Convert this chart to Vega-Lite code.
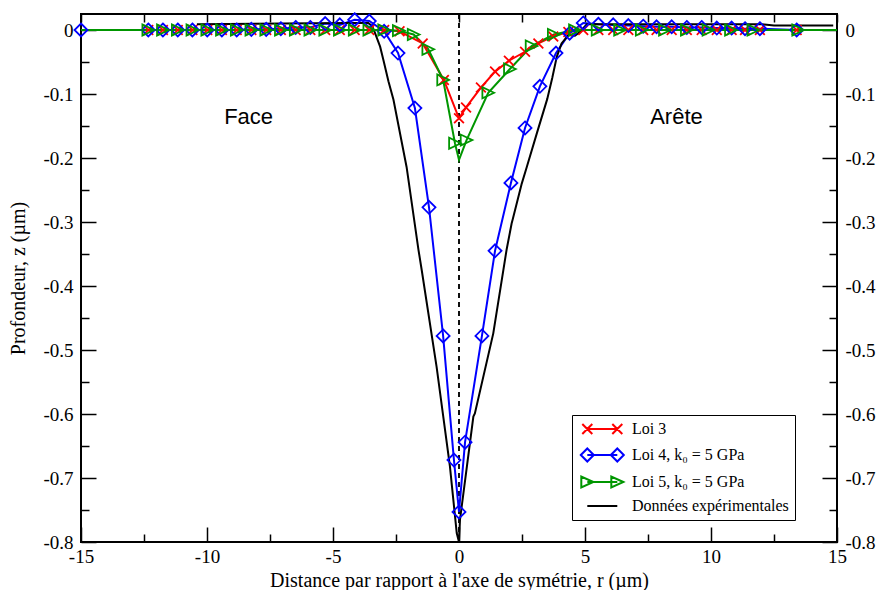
{
  "$schema": "https://vega.github.io/schema/vega-lite/v6.json",
  "width": 756,
  "height": 528,
  "autosize": {"type": "none"},
  "padding": {"left": 81, "top": 14, "right": 43, "bottom": 48},
  "background": "white",
  "config": {
    "view": {"stroke": "black", "strokeWidth": 2},
    "axis": {
      "domain": false, "grid": false, "ticks": true, "tickColor": "#000000", "tickWidth": 1.5, "tickOpacity": 1, "zindex": 1,
      "labelFont": "Liberation Serif", "labelFontSize": 19, "labelColor": "#000000",
      "titleFont": "Liberation Serif", "titleFontSize": 20, "titleFontWeight": "normal", "titleColor": "#000000",
      "labelFlush": false, "labelOverlap": false
    }
  },
  "datasets": {
    "curves": [
      {"serie": "Loi 3", "x": -15, "y": 0},
      {"serie": "Loi 3", "x": -12.33, "y": 0},
      {"serie": "Loi 3", "x": -11.75, "y": 0},
      {"serie": "Loi 3", "x": -11.16, "y": 0},
      {"serie": "Loi 3", "x": -10.58, "y": 0},
      {"serie": "Loi 3", "x": -9.99, "y": 0},
      {"serie": "Loi 3", "x": -9.41, "y": 0},
      {"serie": "Loi 3", "x": -8.82, "y": 0},
      {"serie": "Loi 3", "x": -8.24, "y": 0},
      {"serie": "Loi 3", "x": -7.65, "y": 0},
      {"serie": "Loi 3", "x": -7.07, "y": 0},
      {"serie": "Loi 3", "x": -6.48, "y": 0},
      {"serie": "Loi 3", "x": -5.9, "y": 0},
      {"serie": "Loi 3", "x": -5.31, "y": 0},
      {"serie": "Loi 3", "x": -4.73, "y": 0},
      {"serie": "Loi 3", "x": -4.14, "y": 0},
      {"serie": "Loi 3", "x": -3.56, "y": 0},
      {"serie": "Loi 3", "x": -2.97, "y": 0},
      {"serie": "Loi 3", "x": -2.36, "y": -0.002},
      {"serie": "Loi 3", "x": -1.44, "y": -0.021},
      {"serie": "Loi 3", "x": -0.6, "y": -0.078},
      {"serie": "Loi 3", "x": 0, "y": -0.138},
      {"serie": "Loi 3", "x": 0.28, "y": -0.121},
      {"serie": "Loi 3", "x": 0.87, "y": -0.09},
      {"serie": "Loi 3", "x": 1.43, "y": -0.065},
      {"serie": "Loi 3", "x": 1.98, "y": -0.048},
      {"serie": "Loi 3", "x": 2.62, "y": -0.034},
      {"serie": "Loi 3", "x": 3.15, "y": -0.021},
      {"serie": "Loi 3", "x": 3.74, "y": -0.01},
      {"serie": "Loi 3", "x": 4.34, "y": -0.003},
      {"serie": "Loi 3", "x": 4.93, "y": 0},
      {"serie": "Loi 3", "x": 5.53, "y": 0},
      {"serie": "Loi 3", "x": 6.12, "y": 0},
      {"serie": "Loi 3", "x": 6.72, "y": 0},
      {"serie": "Loi 3", "x": 7.31, "y": 0},
      {"serie": "Loi 3", "x": 7.84, "y": 0},
      {"serie": "Loi 3", "x": 8.44, "y": 0},
      {"serie": "Loi 3", "x": 9.04, "y": 0},
      {"serie": "Loi 3", "x": 9.63, "y": 0},
      {"serie": "Loi 3", "x": 10.23, "y": 0},
      {"serie": "Loi 3", "x": 10.82, "y": 0},
      {"serie": "Loi 3", "x": 11.35, "y": 0},
      {"serie": "Loi 3", "x": 11.94, "y": 0},
      {"serie": "Loi 3", "x": 13.4, "y": 0},
      {"serie": "Loi 3", "x": 15, "y": 0},

      {"serie": "Loi 4, k₀ = 5 GPa", "x": -15, "y": 0},
      {"serie": "Loi 4, k₀ = 5 GPa", "x": -12.33, "y": 0},
      {"serie": "Loi 4, k₀ = 5 GPa", "x": -11.75, "y": 0},
      {"serie": "Loi 4, k₀ = 5 GPa", "x": -11.16, "y": 0},
      {"serie": "Loi 4, k₀ = 5 GPa", "x": -10.58, "y": 0},
      {"serie": "Loi 4, k₀ = 5 GPa", "x": -9.99, "y": 0},
      {"serie": "Loi 4, k₀ = 5 GPa", "x": -9.41, "y": 0},
      {"serie": "Loi 4, k₀ = 5 GPa", "x": -8.82, "y": 0},
      {"serie": "Loi 4, k₀ = 5 GPa", "x": -8.24, "y": 0.001},
      {"serie": "Loi 4, k₀ = 5 GPa", "x": -7.65, "y": 0.001},
      {"serie": "Loi 4, k₀ = 5 GPa", "x": -7.07, "y": 0.002},
      {"serie": "Loi 4, k₀ = 5 GPa", "x": -6.48, "y": 0.004},
      {"serie": "Loi 4, k₀ = 5 GPa", "x": -5.9, "y": 0.004},
      {"serie": "Loi 4, k₀ = 5 GPa", "x": -5.31, "y": 0.01},
      {"serie": "Loi 4, k₀ = 5 GPa", "x": -4.73, "y": 0.008},
      {"serie": "Loi 4, k₀ = 5 GPa", "x": -4.14, "y": 0.016},
      {"serie": "Loi 4, k₀ = 5 GPa", "x": -3.56, "y": 0.014},
      {"serie": "Loi 4, k₀ = 5 GPa", "x": -2.97, "y": -0.002},
      {"serie": "Loi 4, k₀ = 5 GPa", "x": -2.42, "y": -0.036},
      {"serie": "Loi 4, k₀ = 5 GPa", "x": -1.75, "y": -0.122},
      {"serie": "Loi 4, k₀ = 5 GPa", "x": -1.19, "y": -0.277},
      {"serie": "Loi 4, k₀ = 5 GPa", "x": -0.63, "y": -0.478},
      {"serie": "Loi 4, k₀ = 5 GPa", "x": -0.2, "y": -0.672},
      {"serie": "Loi 4, k₀ = 5 GPa", "x": 0, "y": -0.753},
      {"serie": "Loi 4, k₀ = 5 GPa", "x": 0.24, "y": -0.644},
      {"serie": "Loi 4, k₀ = 5 GPa", "x": 0.91, "y": -0.478},
      {"serie": "Loi 4, k₀ = 5 GPa", "x": 1.43, "y": -0.345},
      {"serie": "Loi 4, k₀ = 5 GPa", "x": 2.06, "y": -0.239},
      {"serie": "Loi 4, k₀ = 5 GPa", "x": 2.62, "y": -0.153},
      {"serie": "Loi 4, k₀ = 5 GPa", "x": 3.21, "y": -0.088},
      {"serie": "Loi 4, k₀ = 5 GPa", "x": 3.85, "y": -0.036},
      {"serie": "Loi 4, k₀ = 5 GPa", "x": 4.39, "y": -0.005},
      {"serie": "Loi 4, k₀ = 5 GPa", "x": 4.93, "y": 0.011},
      {"serie": "Loi 4, k₀ = 5 GPa", "x": 5.53, "y": 0.009},
      {"serie": "Loi 4, k₀ = 5 GPa", "x": 6.12, "y": 0.008},
      {"serie": "Loi 4, k₀ = 5 GPa", "x": 6.72, "y": 0.007},
      {"serie": "Loi 4, k₀ = 5 GPa", "x": 7.31, "y": 0.006},
      {"serie": "Loi 4, k₀ = 5 GPa", "x": 7.84, "y": 0.005},
      {"serie": "Loi 4, k₀ = 5 GPa", "x": 8.44, "y": 0.005},
      {"serie": "Loi 4, k₀ = 5 GPa", "x": 9.04, "y": 0.004},
      {"serie": "Loi 4, k₀ = 5 GPa", "x": 9.63, "y": 0.004},
      {"serie": "Loi 4, k₀ = 5 GPa", "x": 10.23, "y": 0.003},
      {"serie": "Loi 4, k₀ = 5 GPa", "x": 10.82, "y": 0.003},
      {"serie": "Loi 4, k₀ = 5 GPa", "x": 11.35, "y": 0.002},
      {"serie": "Loi 4, k₀ = 5 GPa", "x": 11.94, "y": 0.002},
      {"serie": "Loi 4, k₀ = 5 GPa", "x": 13.4, "y": 0},
      {"serie": "Loi 4, k₀ = 5 GPa", "x": 15, "y": 0},

      {"serie": "Loi 5, k₀ = 5 GPa", "x": -15, "y": 0},
      {"serie": "Loi 5, k₀ = 5 GPa", "x": -12.33, "y": 0},
      {"serie": "Loi 5, k₀ = 5 GPa", "x": -11.75, "y": 0},
      {"serie": "Loi 5, k₀ = 5 GPa", "x": -11.16, "y": 0},
      {"serie": "Loi 5, k₀ = 5 GPa", "x": -10.58, "y": 0},
      {"serie": "Loi 5, k₀ = 5 GPa", "x": -9.99, "y": 0},
      {"serie": "Loi 5, k₀ = 5 GPa", "x": -9.41, "y": 0},
      {"serie": "Loi 5, k₀ = 5 GPa", "x": -8.82, "y": 0},
      {"serie": "Loi 5, k₀ = 5 GPa", "x": -8.24, "y": 0},
      {"serie": "Loi 5, k₀ = 5 GPa", "x": -7.65, "y": 0},
      {"serie": "Loi 5, k₀ = 5 GPa", "x": -7.07, "y": 0},
      {"serie": "Loi 5, k₀ = 5 GPa", "x": -6.48, "y": 0},
      {"serie": "Loi 5, k₀ = 5 GPa", "x": -5.9, "y": 0},
      {"serie": "Loi 5, k₀ = 5 GPa", "x": -5.31, "y": 0},
      {"serie": "Loi 5, k₀ = 5 GPa", "x": -4.73, "y": 0},
      {"serie": "Loi 5, k₀ = 5 GPa", "x": -4.14, "y": 0},
      {"serie": "Loi 5, k₀ = 5 GPa", "x": -3.56, "y": 0},
      {"serie": "Loi 5, k₀ = 5 GPa", "x": -2.97, "y": 0},
      {"serie": "Loi 5, k₀ = 5 GPa", "x": -2.39, "y": -0.001},
      {"serie": "Loi 5, k₀ = 5 GPa", "x": -1.8, "y": -0.007},
      {"serie": "Loi 5, k₀ = 5 GPa", "x": -1.22, "y": -0.03},
      {"serie": "Loi 5, k₀ = 5 GPa", "x": -0.63, "y": -0.078},
      {"serie": "Loi 5, k₀ = 5 GPa", "x": -0.16, "y": -0.177},
      {"serie": "Loi 5, k₀ = 5 GPa", "x": 0, "y": -0.203},
      {"serie": "Loi 5, k₀ = 5 GPa", "x": 0.3, "y": -0.172},
      {"serie": "Loi 5, k₀ = 5 GPa", "x": 1.16, "y": -0.098},
      {"serie": "Loi 5, k₀ = 5 GPa", "x": 2.02, "y": -0.061},
      {"serie": "Loi 5, k₀ = 5 GPa", "x": 2.88, "y": -0.025},
      {"serie": "Loi 5, k₀ = 5 GPa", "x": 3.76, "y": -0.007},
      {"serie": "Loi 5, k₀ = 5 GPa", "x": 4.6, "y": 0},
      {"serie": "Loi 5, k₀ = 5 GPa", "x": 5.5, "y": 0},
      {"serie": "Loi 5, k₀ = 5 GPa", "x": 6.39, "y": 0},
      {"serie": "Loi 5, k₀ = 5 GPa", "x": 7.25, "y": 0},
      {"serie": "Loi 5, k₀ = 5 GPa", "x": 8.17, "y": 0},
      {"serie": "Loi 5, k₀ = 5 GPa", "x": 9.04, "y": 0},
      {"serie": "Loi 5, k₀ = 5 GPa", "x": 9.9, "y": 0},
      {"serie": "Loi 5, k₀ = 5 GPa", "x": 10.79, "y": 0},
      {"serie": "Loi 5, k₀ = 5 GPa", "x": 11.68, "y": 0},
      {"serie": "Loi 5, k₀ = 5 GPa", "x": 13.46, "y": 0},
      {"serie": "Loi 5, k₀ = 5 GPa", "x": 15, "y": 0},

      {"serie": "Données expérimentales", "x": -10.4, "y": 0.009},
      {"serie": "Données expérimentales", "x": -7, "y": 0.01},
      {"serie": "Données expérimentales", "x": -4.5, "y": 0.011},
      {"serie": "Données expérimentales", "x": -3.6, "y": 0.011},
      {"serie": "Données expérimentales", "x": -3.45, "y": 0.006},
      {"serie": "Données expérimentales", "x": -3.35, "y": -0.003},
      {"serie": "Données expérimentales", "x": -3.13, "y": -0.026},
      {"serie": "Données expérimentales", "x": -3.0, "y": -0.047},
      {"serie": "Données expérimentales", "x": -2.8, "y": -0.08},
      {"serie": "Données expérimentales", "x": -2.6, "y": -0.109},
      {"serie": "Données expérimentales", "x": -2.08, "y": -0.214},
      {"serie": "Données expérimentales", "x": -1.61, "y": -0.343},
      {"serie": "Données expérimentales", "x": -1.48, "y": -0.375},
      {"serie": "Données expérimentales", "x": -0.89, "y": -0.526},
      {"serie": "Données expérimentales", "x": -0.36, "y": -0.682},
      {"serie": "Données expérimentales", "x": -0.09, "y": -0.786},
      {"serie": "Données expérimentales", "x": 0, "y": -0.8},
      {"serie": "Données expérimentales", "x": 0.04, "y": -0.765},
      {"serie": "Données expérimentales", "x": 0.57, "y": -0.604},
      {"serie": "Données expérimentales", "x": 0.63, "y": -0.599},
      {"serie": "Données expérimentales", "x": 1.36, "y": -0.474},
      {"serie": "Données expérimentales", "x": 1.89, "y": -0.343},
      {"serie": "Données expérimentales", "x": 2.09, "y": -0.302},
      {"serie": "Données expérimentales", "x": 2.13, "y": -0.296},
      {"serie": "Données expérimentales", "x": 2.49, "y": -0.24},
      {"serie": "Données expérimentales", "x": 2.69, "y": -0.214},
      {"serie": "Données expérimentales", "x": 3.1, "y": -0.16},
      {"serie": "Données expérimentales", "x": 3.5, "y": -0.108},
      {"serie": "Données expérimentales", "x": 3.7, "y": -0.075},
      {"serie": "Données expérimentales", "x": 3.88, "y": -0.042},
      {"serie": "Données expérimentales", "x": 4.07, "y": -0.021},
      {"serie": "Données expérimentales", "x": 4.34, "y": -0.008},
      {"serie": "Données expérimentales", "x": 4.6, "y": -0.009},
      {"serie": "Données expérimentales", "x": 4.8, "y": -0.003},
      {"serie": "Données expérimentales", "x": 5.07, "y": 0.009},
      {"serie": "Données expérimentales", "x": 12, "y": 0.009},
      {"serie": "Données expérimentales", "x": 12.5, "y": 0.007},
      {"serie": "Données expérimentales", "x": 14.85, "y": 0.007}
    ],
    "notes": [
      {"x": -8.35, "y": -0.136, "label": "Face"},
      {"x": 8.63, "y": -0.136, "label": "Arête"}
    ]
  },
  "resolve": {"axis": {"x": "independent", "y": "independent"}},
  "layer": [
    {
      "data": {"name": "notes"},
      "mark": {"type": "rule", "color": "black", "strokeWidth": 1.5, "strokeDash": [5, 4]},
      "encoding": {
        "x": {
          "datum": 0, "type": "quantitative",
          "scale": {"domain": [-15, 15], "nice": false, "zero": false},
          "axis": {"orient": "bottom", "values": [-12.5, -7.5, -2.5, 2.5, 7.5, 12.5], "tickSize": 8, "offset": -8, "labels": false, "title": null}
        }
      }
    },
    {
      "data": {"name": "curves"},
      "mark": {"type": "line", "strokeWidth": 2, "clip": true},
      "encoding": {
        "x": {
          "field": "x", "type": "quantitative",
          "scale": {"domain": [-15, 15], "nice": false, "zero": false},
          "axis": {
            "orient": "bottom",
            "values": [-15, -10, -5, 0, 5, 10, 15],
            "tickSize": 15, "offset": -15,
            "labelPadding": 5,
            "labelExpr": "'' + datum.value",
            "encode": {"labels": {"update": {"fontSize": {"value": 19}, "font": {"value": "Liberation Serif"}, "fill": {"value": "#000000"}}}},
            "title": "Distance par rapport à l'axe de symétrie, r (µm)",
            "titleY": 53,
            "titleBaseline": "middle"
          }
        },
        "y": {
          "field": "y", "type": "quantitative",
          "scale": {"domain": [-0.8, 0.025], "nice": false, "zero": false},
          "axis": {
            "orient": "left",
            "values": [0, -0.1, -0.2, -0.3, -0.4, -0.5, -0.6, -0.7, -0.8],
            "tickSize": 15, "offset": -15,
            "labelPadding": 8,
            "labelExpr": "'' + datum.value",
            "encode": {"labels": {"update": {"fontSize": {"value": 19}, "font": {"value": "Liberation Serif"}, "fill": {"value": "#000000"}}}},
            "title": "Profondeur, z (µm)",
            "titleX": -78,
            "titleBaseline": "middle"
          }
        },
        "color": {
          "field": "serie", "type": "nominal",
          "scale": {
            "domain": ["Loi 3", "Loi 4, k₀ = 5 GPa", "Loi 5, k₀ = 5 GPa", "Données expérimentales"],
            "range": ["#ff0000", "#0000ff", "#009600", "#000000"]
          },
          "legend": {
            "orient": "none", "legendX": 491, "legendY": 401, "title": null,
            "strokeColor": "black", "fillColor": "white", "padding": 6,
            "labelFont": "Liberation Serif", "labelFontSize": 16, "labelColor": "black",
            "symbolSize": 100, "symbolStrokeWidth": 2, "labelOffset": 38, "rowPadding": 6,
            "symbolType": "stroke",
            "encode": {
              "symbols": {
                "update": {
                  "fill": {"value": "transparent"},
                  "shape": {"signal": "datum.value === 'Loi 3' ? 'M0.26,0L6.26,0M-0.74,-1L1.26,1M-0.74,1L1.26,-1M5.26,-1L7.26,1M5.26,1L7.26,-1' : datum.value === 'Données expérimentales' ? 'M0.26,0L6.26,0' : datum.value === 'Loi 4, k₀ = 5 GPa' ? 'M0.26,0L6.26,0M-1.04,0L0.26,-1.3L1.56,0L0.26,1.3ZM4.96,0L6.26,-1.3L7.56,0L6.26,1.3Z' : 'M0.26,0L6.26,0M1.46,0L-0.94,-1.1L-0.94,1.1ZM7.46,0L5.06,-1.1L5.06,1.1Z'"}
                }
              }
            }
          }
        }
      }
    },
    {
      "data": {"name": "curves"},
      "transform": [
        {"filter": "datum.serie !== 'Données expérimentales' && ((datum.x > -14.9 && datum.x < 14.9 && !(datum.serie === 'Loi 5, k₀ = 5 GPa' && datum.x === 0)) || (datum.x === -15 && datum.serie === 'Loi 4, k₀ = 5 GPa'))"}
      ],
      "mark": {"type": "point", "filled": false, "strokeWidth": 1.8, "size": 169, "opacity": 1},
      "encoding": {
        "x": {
          "field": "x", "type": "quantitative",
          "scale": {"domain": [-15, 15], "nice": false, "zero": false},
          "axis": {"orient": "top", "values": [-15, -12.5, -10, -7.5, -5, -2.5, 0, 2.5, 5, 7.5, 10, 12.5, 15], "tickSize": 8, "offset": -8, "labels": false, "title": null}
        },
        "y": {
          "field": "y", "type": "quantitative",
          "scale": {"domain": [-0.8, 0.025], "nice": false, "zero": false},
          "axis": {"orient": "left", "values": [-0.05, -0.15, -0.25, -0.35, -0.45, -0.55, -0.65, -0.75], "tickSize": 8, "offset": -8, "labels": false, "title": null}
        },
        "color": {
          "field": "serie", "type": "nominal",
          "scale": {
            "domain": ["Loi 3", "Loi 4, k₀ = 5 GPa", "Loi 5, k₀ = 5 GPa", "Données expérimentales"],
            "range": ["#ff0000", "#0000ff", "#009600", "#000000"]
          },
          "legend": null
        },
        "shape": {
          "field": "serie", "type": "nominal",
          "scale": {
            "domain": ["Loi 3", "Loi 4, k₀ = 5 GPa", "Loi 5, k₀ = 5 GPa"],
            "range": ["M-0.75,-0.75L0.75,0.75M-0.75,0.75L0.75,-0.75", "M0,-1L1,0L0,1L-1,0Z", "M0.9,0L-0.9,-0.85L-0.9,0.85Z"]
          },
          "legend": null
        }
      }
    },
    {
      "data": {"name": "notes"},
      "mark": {"type": "text", "font": "Liberation Sans", "fontSize": 22, "color": "black"},
      "encoding": {
        "x": {"field": "x", "type": "quantitative", "scale": {"domain": [-15, 15], "nice": false, "zero": false}, "axis": null},
        "y": {
          "field": "y", "type": "quantitative",
          "scale": {"domain": [-0.8, 0.025], "nice": false, "zero": false},
          "axis": {
            "orient": "right",
            "values": [0, -0.1, -0.2, -0.3, -0.4, -0.5, -0.6, -0.7, -0.8],
            "tickSize": 15, "offset": -15,
            "labelPadding": 8,
            "labelExpr": "'' + datum.value",
            "encode": {"labels": {"update": {"fontSize": {"value": 19}, "font": {"value": "Liberation Serif"}, "fill": {"value": "#000000"}}}},
            "title": null
          }
        },
        "text": {"field": "label", "type": "nominal"}
      }
    },
    {
      "data": {"name": "notes"},
      "mark": {"type": "point", "opacity": 0},
      "encoding": {
        "x": {"field": "x", "type": "quantitative", "scale": {"domain": [-15, 15], "nice": false, "zero": false}, "axis": null},
        "y": {
          "field": "y", "type": "quantitative",
          "scale": {"domain": [-0.8, 0.025], "nice": false, "zero": false},
          "axis": {"orient": "right", "values": [-0.05, -0.15, -0.25, -0.35, -0.45, -0.55, -0.65, -0.75], "tickSize": 8, "offset": -8, "labels": false, "title": null}
        }
      }
    }
  ]
}
